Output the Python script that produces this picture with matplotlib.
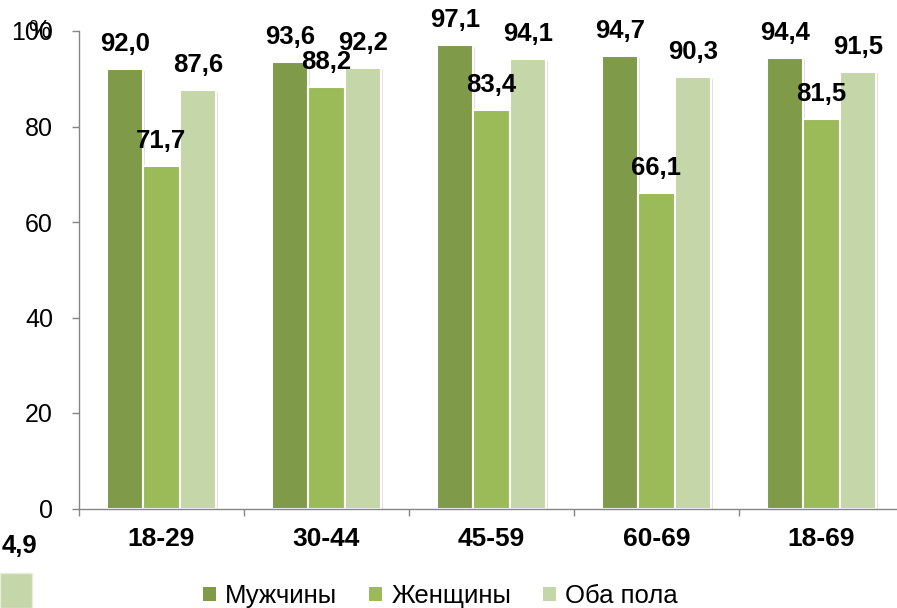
import matplotlib
matplotlib.use("Agg")
import matplotlib.pyplot as plt
import matplotlib.patheffects as pe
from matplotlib.patches import Patch, Rectangle
from matplotlib.ticker import FixedLocator
import numpy as np

plt.rcParams['font.family'] = ['Liberation Sans', 'DejaVu Sans']

categories = ['18-29', '30-44', '45-59', '60-69', '18-69']
series_names = ['Мужчины', 'Женщины', 'Оба пола']
men = [92.0, 93.6, 97.1, 94.7, 94.4]
women = [71.7, 88.2, 83.4, 66.1, 81.5]
both = [87.6, 92.2, 94.1, 90.3, 91.5]
yticks = [0, 20, 40, 60, 80, 100]
colors = ['#7f9a48', '#9bbb59', '#c5d6a8']

W, H = 897, 608
fig = plt.figure(figsize=(W / 100, H / 100), dpi=100)
ax = fig.add_axes([78.8 / W, (H - 508.5) / H, 825 / W, 477.5 / H])

x = np.arange(len(categories))
bw = 0.221
shadow = [pe.SimplePatchShadow(offset=(1.2, -1.2), shadow_rgbFace='#000000', alpha=0.12), pe.Normal()]
for j, (vals, c) in enumerate(zip([men, women, both], colors)):
    bars = ax.bar(x + (j - 1) * bw, vals, width=bw, color=c, edgecolor='white',
                  linewidth=1.5, zorder=2)
    for b in bars:
        b.set_path_effects(shadow)
    for xi, v in zip(x + (j - 1) * bw, vals):
        ax.annotate(f"{v:.1f}".replace('.', ','), (xi, v), xytext=(0, 18),
                    textcoords='offset points', ha='center', va='center',
                    fontsize=18.5, fontweight='bold', color='black', zorder=5)

ax.set_xlim(-0.5, len(categories) - 0.5)
ax.set_ylim(0, 100)
ax.set_yticks(yticks)
ax.set_yticklabels([str(t) for t in yticks], fontsize=18)
ax.set_xticks(x)
ax.set_xticklabels(categories, fontsize=19, fontweight='bold')
ax.xaxis.set_minor_locator(FixedLocator(np.arange(len(categories) + 1) - 0.5))
ax.tick_params(axis='x', which='major', length=0, pad=13)
ax.tick_params(axis='x', which='minor', length=5, width=1, color='#868686', direction='out')
ax.tick_params(axis='y', length=5, width=1, color='#868686', direction='out', pad=13.5)

for s in ['top', 'right']:
    ax.spines[s].set_visible(False)
for s in ['left', 'bottom']:
    ax.spines[s].set_color('#868686')
    ax.spines[s].set_linewidth(1)

# overlapping "%" over the top tick label
fig.text(39 / W, 1 - 31 / H, '%', fontsize=18, ha='center', va='center')

# clipped leftovers at bottom-left
fig.text(2 / W, 1 - 546 / H, '4,9', fontsize=18.5, fontweight='bold', ha='left', va='center')
fig.patches.append(Rectangle((0, 0), 32 / W, 35 / H, transform=fig.transFigure,
                             facecolor=colors[2], edgecolor='#e6eedb', linewidth=1))

handles = [Patch(facecolor=c, edgecolor='none') for c in colors]
fig.legend(handles, series_names, loc='center', bbox_to_anchor=(440.5 / W, 1 - 596 / H),
           ncol=3, frameon=False, fontsize=18.5, handlelength=0.5, handleheight=0.5,
           handletextpad=0.35, columnspacing=1.25, borderpad=0, borderaxespad=0)

fig.savefig('out.png', dpi=100)
